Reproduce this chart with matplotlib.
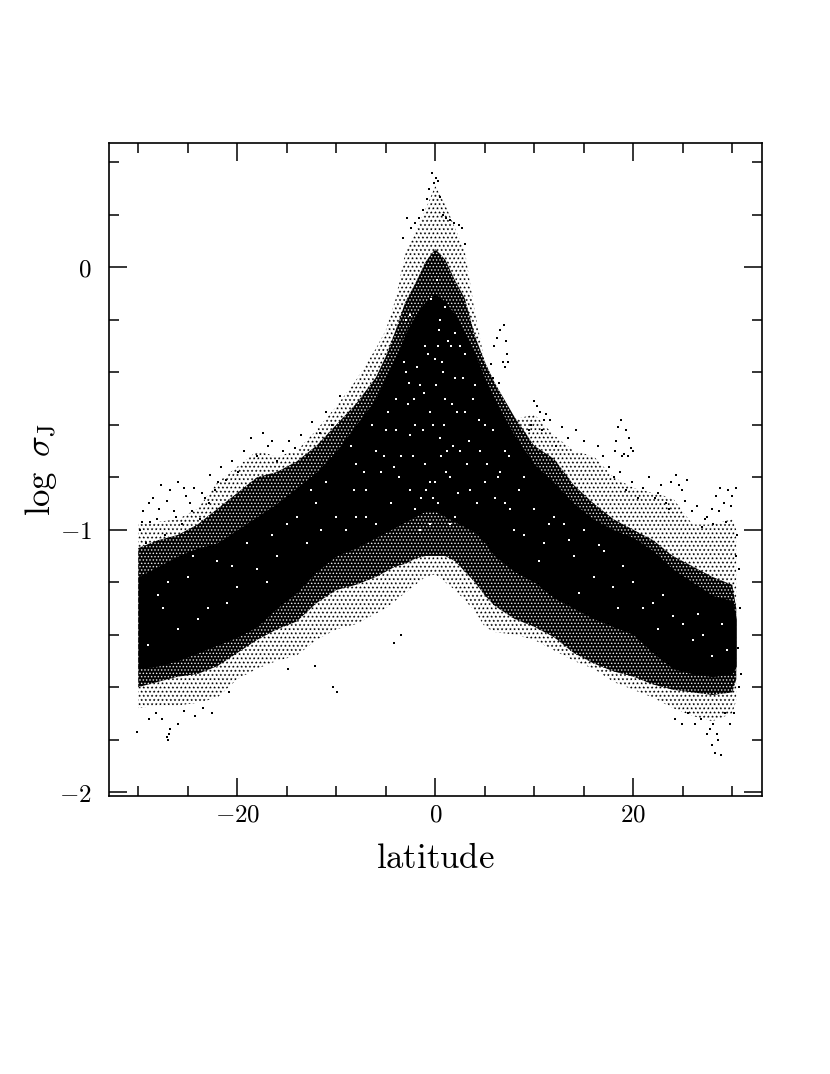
"""
log sigma_J against latitude, dense point cloud read off the picture as bands + loose points
"""

#libraries
import matplotlib
matplotlib.use('Agg')
import matplotlib.pyplot as plt
from matplotlib.ticker import MultipleLocator

plt.rcParams['mathtext.fontset'] = 'cm'
plt.rcParams['hatch.linewidth'] = 0.0

# 1. band edges of the cloud, read at these latitudes
lat = [-30, -28, -26, -24, -22, -20, -18, -16, -14, -12, -10, -8, -6, -5, -4, -3, -2, -1, 0,
       1, 2, 3, 4, 5, 6, 8, 10, 12, 14, 16, 18, 20, 22, 24, 26, 28, 30, 30.4]
outer_top = [-0.98, -0.97, -0.96, -0.92, -0.82, -0.76, -0.70, -0.72, -0.70, -0.62, -0.53, -0.43, -0.31, -0.24, -0.12, 0.06, 0.14, 0.22, 0.31,
             0.24, 0.15, 0.06, -0.17, -0.36, -0.44, -0.58, -0.56, -0.64, -0.70, -0.72, -0.80, -0.84, -0.86, -0.88, -0.98, -0.98, -0.96, -1.00]
dense_top = [-1.07, -1.04, -1.02, -0.98, -0.92, -0.86, -0.80, -0.78, -0.74, -0.68, -0.60, -0.52, -0.42, -0.34, -0.24, -0.13, -0.06, 0.02, 0.07,
             0.03, -0.05, -0.12, -0.26, -0.36, -0.44, -0.57, -0.68, -0.73, -0.83, -0.90, -0.96, -1.00, -1.04, -1.10, -1.14, -1.18, -1.21, -1.30]
core_top = [-1.18, -1.14, -1.10, -1.07, -1.05, -1.00, -0.95, -0.90, -0.84, -0.78, -0.70, -0.60, -0.50, -0.42, -0.34, -0.25, -0.18, -0.13, -0.10,
            -0.13, -0.18, -0.25, -0.33, -0.42, -0.50, -0.64, -0.75, -0.82, -0.90, -0.96, -1.00, -1.03, -1.08, -1.15, -1.20, -1.25, -1.27, -1.34]
core_bot = [-1.53, -1.52, -1.50, -1.47, -1.44, -1.41, -1.37, -1.30, -1.24, -1.16, -1.10, -1.07, -1.03, -1.01, -0.99, -0.97, -0.95, -0.93, -0.93,
            -0.95, -0.97, -0.99, -1.01, -1.05, -1.10, -1.16, -1.20, -1.26, -1.30, -1.34, -1.37, -1.40, -1.47, -1.53, -1.55, -1.56, -1.55, -1.52]
dense_bot = [-1.60, -1.58, -1.56, -1.55, -1.52, -1.47, -1.42, -1.38, -1.35, -1.28, -1.23, -1.21, -1.18, -1.16, -1.14, -1.13, -1.11, -1.10, -1.10,
             -1.10, -1.12, -1.16, -1.20, -1.25, -1.29, -1.34, -1.37, -1.41, -1.47, -1.51, -1.54, -1.56, -1.59, -1.61, -1.62, -1.63, -1.62, -1.57]
outer_bot = [-1.68, -1.67, -1.67, -1.66, -1.64, -1.57, -1.53, -1.50, -1.48, -1.42, -1.38, -1.36, -1.32, -1.30, -1.27, -1.24, -1.21, -1.18, -1.17,
             -1.20, -1.23, -1.27, -1.31, -1.37, -1.39, -1.40, -1.42, -1.46, -1.50, -1.53, -1.58, -1.61, -1.64, -1.68, -1.71, -1.73, -1.70, -1.65]

# 2. loose points outside the bands
loose_lat = [-30.1, -26.9, -27.0, -26.8, -27.1, -20.8, -10.3, -9.9, -4.2, -3.5,
             -28.9, -26.0, -24.3, -22.5, -14.9, -12.1, -28.2, -27.6, -25.4, -23.5,
             5.9, 6.2, 6.5, 6.9, 7.1, 7.2, 6.8, 7.0, 5.2, 5.6,
             5.8, 6.4, 7.3, 5.4, 6.0, 10.0, 10.3, 10.6, 11.0, 11.2,
             9.7, 9.5, 10.8, 18.5, 18.8, 19.3, 19.6, 19.8, 19.1, 18.3,
             18.2, 18.9, 19.5, 20.0, 27.4, 28.1, 28.5, 28.0, 28.3, 28.6,
             28.9, 24.9, 25.5, 27.7, 24.2, 26.2, 26.8, 29.3, 29.8, 30.2]
loose_sig = [-1.77, -1.78, -1.80, -1.76, -1.79, -1.62, -1.60, -1.62, -1.43, -1.40,
             -1.72, -1.74, -1.71, -1.70, -1.53, -1.52, -1.70, -1.72, -1.69, -1.68,
             -0.30, -0.27, -0.24, -0.22, -0.28, -0.33, -0.36, -0.38, -0.40, -0.37,
             -0.42, -0.44, -0.36, -0.47, -0.50, -0.51, -0.53, -0.55, -0.58, -0.56,
             -0.60, -0.62, -0.62, -0.61, -0.58, -0.62, -0.65, -0.69, -0.71, -0.66,
             -0.70, -0.72, -0.72, -0.70, -1.78, -1.74, -1.78, -1.82, -1.85, -1.80,
             -1.86, -1.74, -1.70, -1.76, -1.72, -1.74, -1.72, -1.70, -1.74, -1.70]

# 3. fringe points along the top of the wings and the cone
fringe_lat = [-29.8, -29.5, -29.2, -28.8, -28.5, -28.1, -27.7, -27.3, -26.8, -26.4,
              -26.0, -25.6, -25.2, -24.8, -24.4, -23.8, -23.3, -22.7, -22.2, -21.6,
              -21.1, -20.5, -19.9, -19.3, -18.6, -18.0, -17.4, -16.9, -16.5, -16.0,
              -15.4, -14.8, -14.2, -13.6, -13.0, -12.4, -11.6, -11.0, -10.4, -9.6,
              -29.6, -28.9, -27.9, -27.1, -26.2, -25.4, -24.6, -23.6, -22.9, -21.9,
              21.0, 21.6, 22.2, 22.8, 23.3, 23.8, 24.3, 24.9, 25.4, 25.9,
              26.4, 26.9, 27.4, 27.9, 28.4, 28.8, 29.2, 29.6, 30.0, 30.4,
              16.4, 16.9, 17.5, 18.1, 18.7, 19.3, 19.9, 20.5, 15.0, 14.2,
              13.4, 12.8, 12.2, 11.6, 22.5, 23.6, 24.6, 25.2, 27.2, 28.1,
              28.7, 29.4, 29.9, 30.5, 30.7, 30.8, 30.6, 30.4, 30.9, 30.7,
              -0.3, 0.1, -0.1, 0.3, -0.6, 0.5, -0.8, 0.8, -1.2, 1.1,
              -1.6, 1.5, -2.0, 1.9, -2.4, 2.4, -2.9, 2.7, -3.3, 3.0]
fringe_sig = [-1.00, -0.93, -1.05, -0.97, -0.88, -0.96, -0.83, -1.02, -0.85, -0.93,
              -0.82, -0.98, -0.87, -0.90, -0.84, -0.96, -0.88, -0.79, -0.85, -0.76,
              -0.81, -0.74, -0.78, -0.70, -0.65, -0.72, -0.63, -0.68, -0.66, -0.74,
              -0.70, -0.66, -0.69, -0.64, -0.72, -0.59, -0.63, -0.55, -0.60, -0.49,
              -0.97, -0.90, -0.92, -0.89, -0.95, -0.84, -0.93, -0.86, -0.90, -0.82,
              -0.84, -0.80, -0.88, -0.83, -0.90, -0.82, -0.79, -0.85, -0.81, -0.93,
              -0.91, -0.99, -0.95, -0.92, -0.87, -0.84, -0.90, -0.85, -0.87, -0.84,
              -0.68, -0.72, -0.76, -0.80, -0.78, -0.85, -0.82, -0.88, -0.66, -0.62,
              -0.65, -0.61, -0.68, -0.58, -0.86, -0.92, -0.83, -0.89, -0.96, -0.98,
              -0.93, -0.97, -0.91, -1.02, -1.15, -1.30, -1.45, -1.10, -1.55, -1.60,
              0.36, 0.34, 0.32, 0.33, 0.30, 0.27, 0.26, 0.20, 0.22, 0.19,
              0.19, 0.18, 0.17, 0.17, 0.15, 0.16, 0.19, 0.15, 0.11, 0.09]

# 4. light specks inside the cloud
speck_lat = [-28, -26, -25, -23, -22, -20, -19, -18, -16, -15, -13, -12, -10, -9, -8, -7, -6, -5, -4.5, -4,
             -3.5, -3, -2.5, -2, -1.5, -1, -0.5, 0, 0.5, 1, 1.5, 2, 2.5, 3, 3.5, 4, 4.5, 5, 6, 7,
             8, 9, 10, 11, 12, 14, 15, 16, 17, 18, 20, 21, 23, 25, 27, -3, -2, -1, 0, 1,
             2, 3, -4, -1.5, 0.5, 1.5, 2.5, -2.5, -0.5, 0.2, 1.2, -6, -8, 5, 7, -11, 9, -14, 13, -27,
             -24, -21, -17, -11.5, -7, -1.2, 0.8, 1.8, 3.2, 6.5, 8.5, 11.5, 13.5, 16.5, 19, 22, 24, 26, 28, 29,
             -29, -27.5, -24.5, -20.5, -16.5, -12.5, -8.5, -5.5, -2.8, -0.2, 0.3, 2.2, 4.2, 7.5, 10.5, 14.5, 18.5, 22.5, 26.5, 29.5,
             -0.4, 0.4, 0.1, -0.2, 0.6, -0.7, 0.9, -1.1, 1.3, -1.8,
             1.7, -2.2, 2.0, -2.6, 2.8, -3.2, 3.4, -3.7, 3.8, -4.2,
             -0.5, 0.3, 0.7, -0.9, 1.1, -1.4, 1.6, -2.1, 2.3, -2.7,
             4.4, -4.8, 5.2, -5.2, 5.8, -6.4, 6.3, -7.2, 7.4, -8.2]
speck_sig = [-1.25, -1.38, -1.18, -1.30, -1.12, -1.22, -1.05, -1.15, -1.10, -0.98, -1.05, -0.90, -0.95, -1.00, -0.75, -0.85, -0.70, -0.62, -0.90, -0.50,
             -0.72, -0.40, -0.85, -0.60, -0.45, -0.75, -0.55, -0.35, -0.65, -0.50, -0.80, -0.42, -0.70, -0.55, -0.85, -0.45, -0.70, -0.60, -0.88, -0.70,
             -1.00, -0.80, -0.92, -1.05, -0.95, -1.10, -1.00, -1.18, -1.08, -1.22, -1.20, -1.30, -1.25, -1.36, -1.40, -0.20, -0.92, -0.30, -0.82, -0.15,
             -0.95, -0.33, -0.62, -1.00, -0.20, -0.98, -0.30, -0.18, -0.98, -0.05, -0.70, -0.98, -0.95, -0.82, -0.90, -0.82, -1.02, -0.95, -0.98, -1.20,
             -1.34, -1.28, -1.20, -1.00, -0.95, -0.62, -0.40, -0.68, -0.75, -0.78, -0.85, -0.98, -1.04, -1.06, -1.14, -1.28, -1.33, -1.42, -1.48, -1.36,
             -1.44, -1.30, -1.10, -1.14, -1.02, -0.85, -0.68, -0.78, -0.52, -0.88, -0.30, -0.55, -0.90, -0.92, -1.12, -1.24, -1.30, -1.38, -1.32, -1.46,
             -0.12, -0.24, -0.45, -0.60, -0.72, -0.33, -0.60, -0.48, -0.28, -0.38,
             -0.52, -0.72, -0.25, -0.64, -0.42, -0.36, -0.66, -0.80, -0.50, -0.76,
             -0.82, -0.90, -0.36, -0.85, -0.78, -0.88, -0.30, -0.50, -0.86, -0.44,
             -0.58, -0.55, -0.75, -0.72, -0.62, -0.60, -0.80, -0.78, -0.72, -0.85]

# 5. plot
fig = plt.figure(figsize=(8.3, 10.74), dpi=100)
ax = fig.add_axes([108.5 / 830, 1 - 796 / 1074, 653.5 / 830, 653 / 1074])

# star hatches come out as 1-2 pixel specks at this size
ax.fill_between(lat, outer_bot, outer_top, facecolor='white', edgecolor='black', hatch='****', linewidth=0)
ax.fill_between(lat, dense_bot, dense_top, facecolor='black', edgecolor='white', hatch='*****', linewidth=0)
ax.fill_between(lat, core_bot, core_top, color='black', linewidth=0)
ax.plot(speck_lat, speck_sig, ls='none', marker='s', ms=1.5, mew=0, color='white')
ax.plot(loose_lat, loose_sig, ls='none', marker='s', ms=1.5, mew=0, color='black')
ax.plot(fringe_lat, fringe_sig, ls='none', marker='s', ms=1.5, mew=0, color='black')

ax.set_xlim(-33, 33)
ax.set_ylim(-2.015, 0.474)
ax.set_xticks([-20, 0, 20])
ax.set_xticklabels(['$-20$', '$0$', '$20$'])
ax.set_yticks([-2, -1, 0])
ax.set_yticklabels(['$-2$', '$-1$', '$0$'])
ax.xaxis.set_minor_locator(MultipleLocator(5))
ax.yaxis.set_minor_locator(MultipleLocator(0.2))
ax.tick_params(which='both', direction='in', top=True, right=True, width=1.1)
ax.tick_params(which='major', length=13, labelsize=18)
ax.tick_params(axis='x', which='major', pad=5)
ax.tick_params(axis='y', which='major', pad=12)
ax.tick_params(which='minor', length=7)
for s in ax.spines.values():
    s.set_linewidth(1.2)

ax.set_xlabel(r'$\mathrm{latitude}$', fontsize=25, labelpad=10)
ax.set_ylabel(r'$\log\ \sigma_{\mathrm{J}}$', fontsize=25, labelpad=0)

fig.savefig('out.png', dpi=100)
